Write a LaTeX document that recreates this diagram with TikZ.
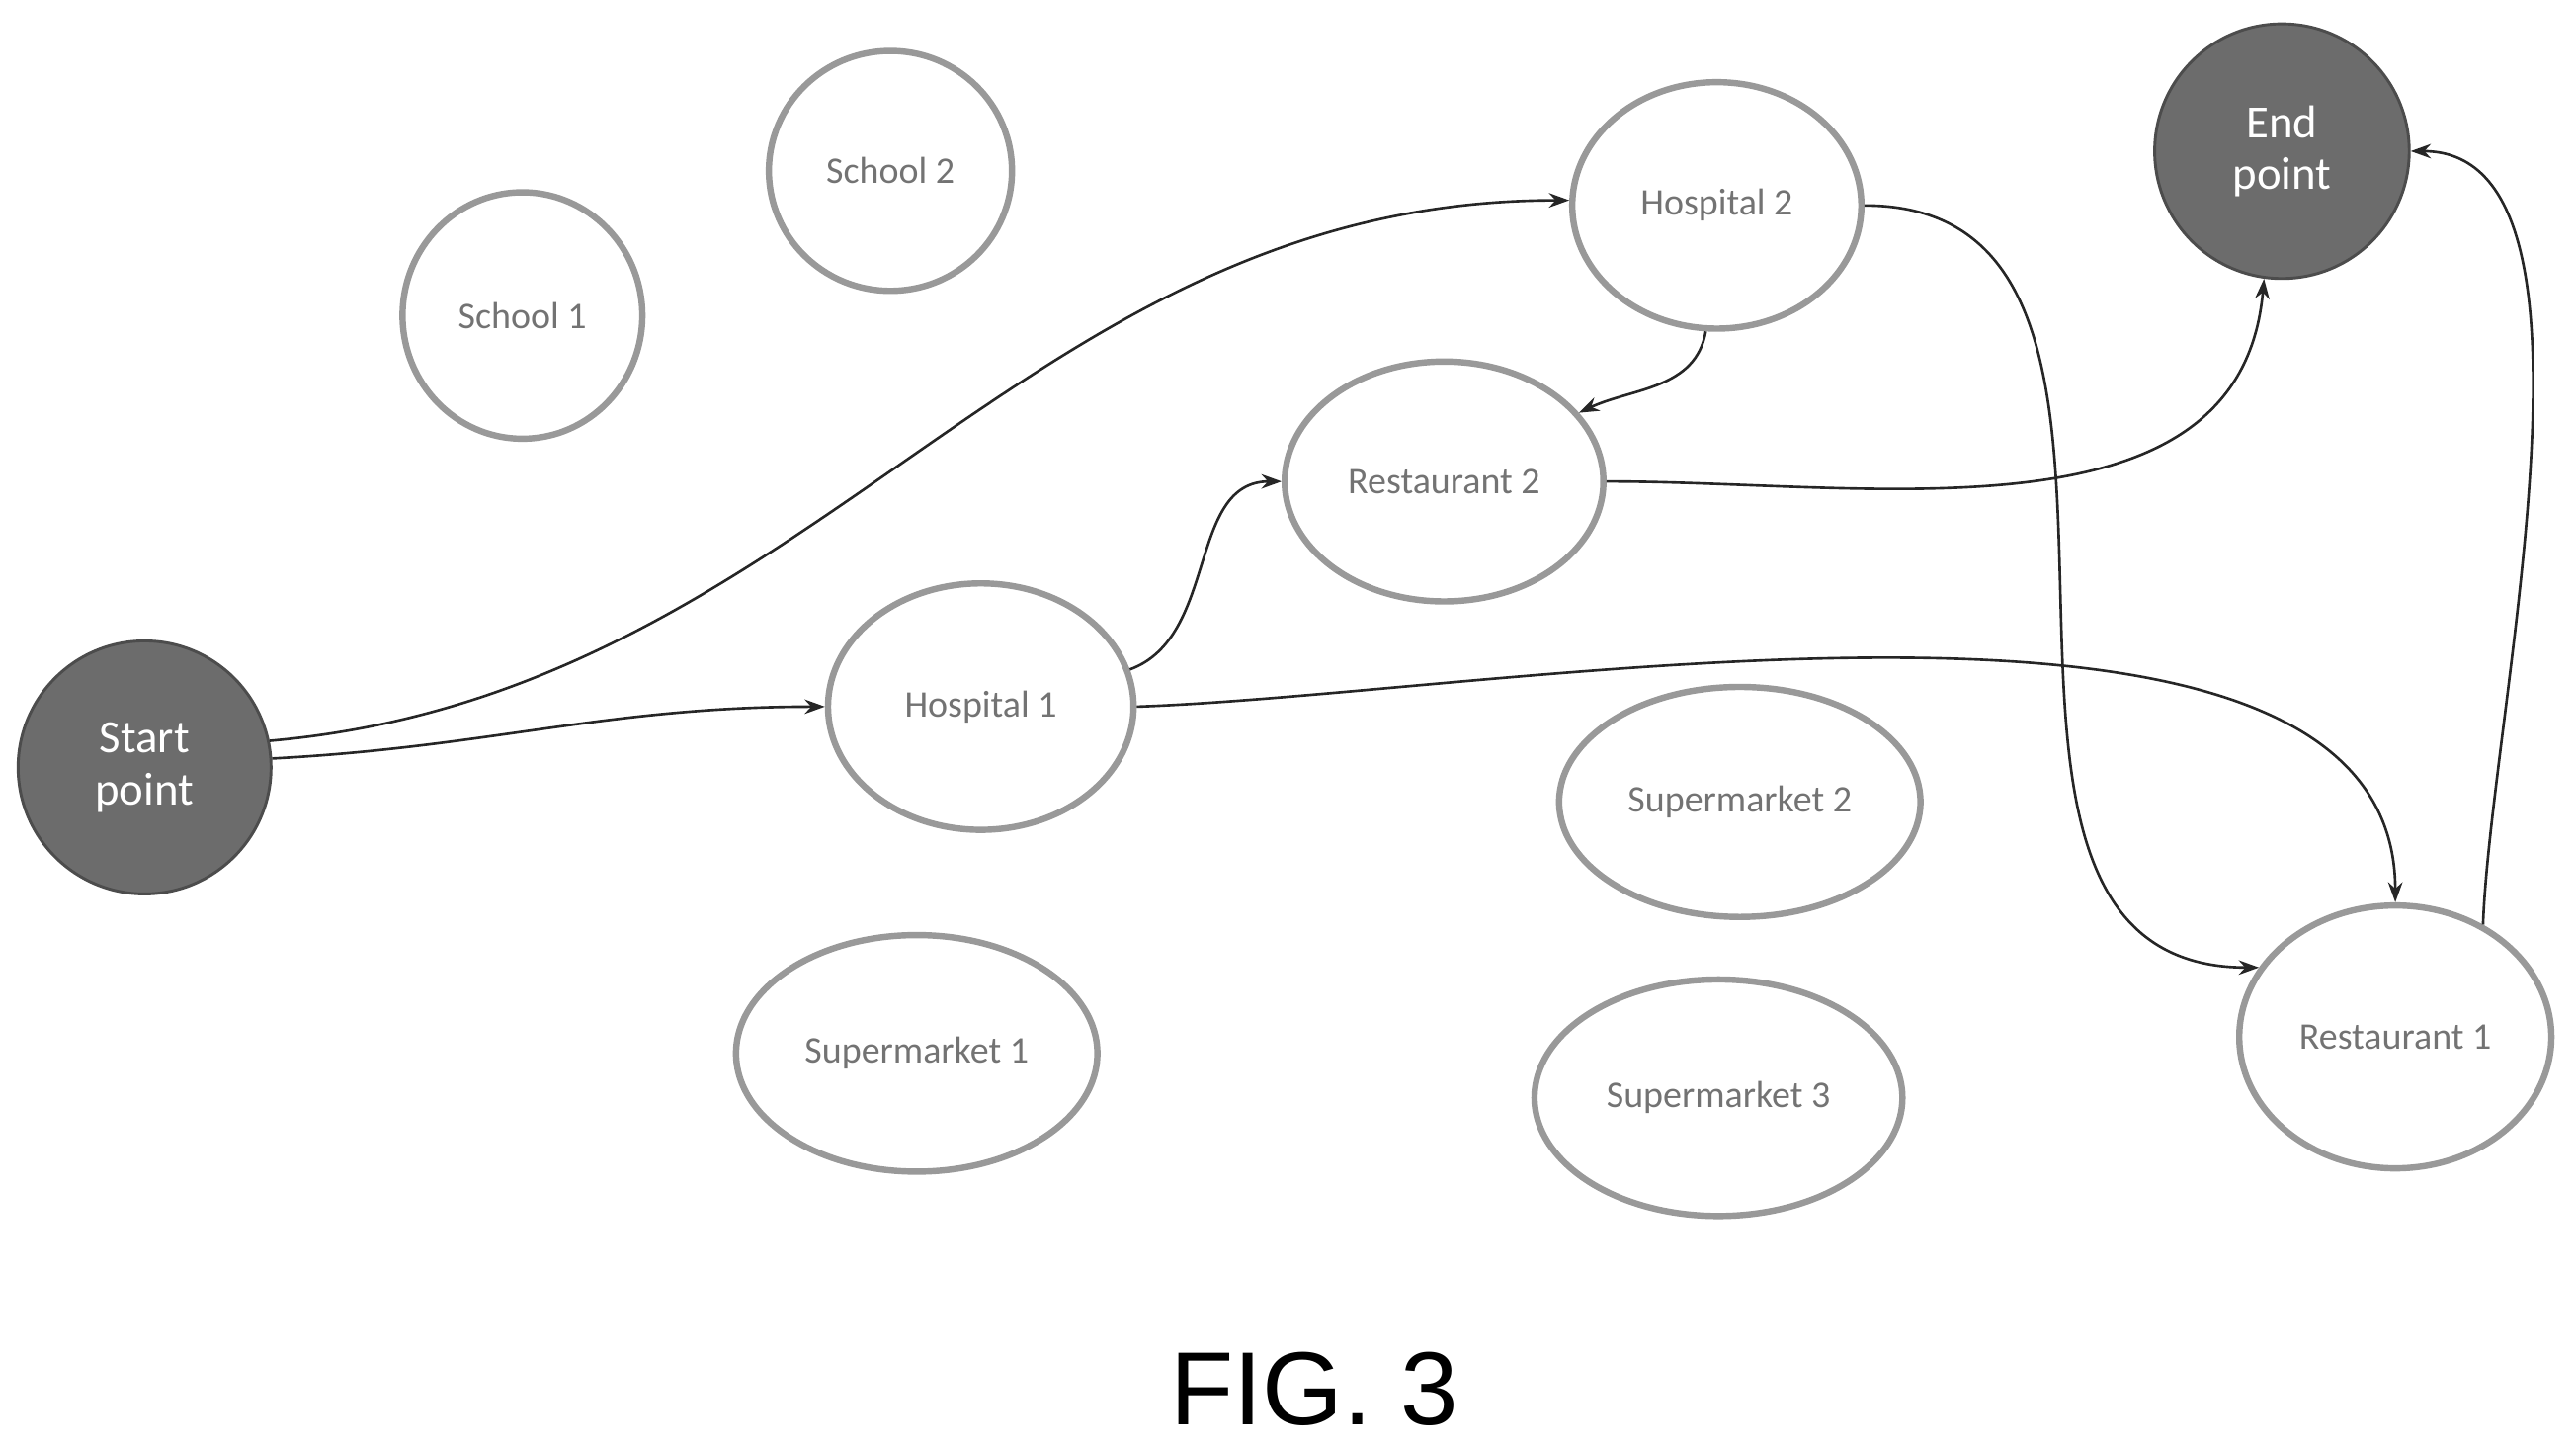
\documentclass[tikz,border=0pt]{standalone}
\usepackage{fontspec}
\setmainfont{Carlito}
\setsansfont{Liberation Sans}
\usetikzlibrary{shapes.geometric,arrows.meta}
\begin{document}
\begin{tikzpicture}[x=0.02cm,y=-0.02cm,
  loc/.style={draw=gray!80,line width=2.2pt,ellipse,inner sep=0pt,text=gray!90!black,font=\fontsize{13}{15}\selectfont},
  term/.style={circle,fill=gray!85!black,draw=gray!60!black,line width=1pt,text=white,inner sep=0pt,align=center,font=\fontsize{16}{18}\selectfont},
  arr/.style={-{Stealth[length=7pt,width=5pt]},line width=0.9pt,draw=black!85}]
\useasboundingbox (0,0) rectangle (1568,881);
\node[term,minimum size=3.08cm] (s) at (88,467) {Start\\point};
\node[term,minimum size=3.1cm] (e) at (1389,92) {End\\point};
\node[loc,minimum width=2.92cm,minimum height=3cm] (sc1) at (318,192) {School 1};
\node[loc,minimum width=2.96cm,minimum height=2.92cm] (sc2) at (542,104) {School 2};
\node[loc,minimum width=3.52cm,minimum height=3cm] (h2) at (1045,125) {Hospital 2};
\node[loc,minimum width=3.88cm,minimum height=2.92cm] (r2) at (879,293) {Restaurant 2};
\node[loc,minimum width=3.72cm,minimum height=3cm] (h1) at (597,430) {Hospital 1};
\node[loc,minimum width=4.4cm,minimum height=2.8cm] (sm2) at (1059,488) {Supermarket 2};
\node[loc,minimum width=4.4cm,minimum height=2.88cm] (sm1) at (558,641) {Supermarket 1};
\node[loc,minimum width=4.48cm,minimum height=2.88cm] (sm3) at (1046,668) {Supermarket 3};
\node[loc,minimum width=3.8cm,minimum height=3.2cm] (r1) at (1458,631) {Restaurant 1};
\node[font=\sffamily\fontsize{36}{40}\selectfont] (fig) at (800,845) {FIG. 3};
\draw[arr] (s.12) to[out=5,in=180] (h2.178);
\draw[arr] (s.4) to[out=3,in=180] (h1.180);
\draw[arr] (h1.14) to[out=20,in=180] (r2.180);
\draw[arr] (h1.0) to[out=2,in=90,looseness=0.75] (r1.90);
\draw[arr] (h2.265) to[out=-100,in=25] (r2.27);
\draw[arr] (h2.0) to[out=0,in=180,looseness=1.1] (r1.153);
\draw[arr] (r2.0) to[out=0,in=-95] (e.262);
\draw[arr] (r1.52) to[out=88,in=0,looseness=0.7] (e.0);
\end{tikzpicture}
\end{document}
